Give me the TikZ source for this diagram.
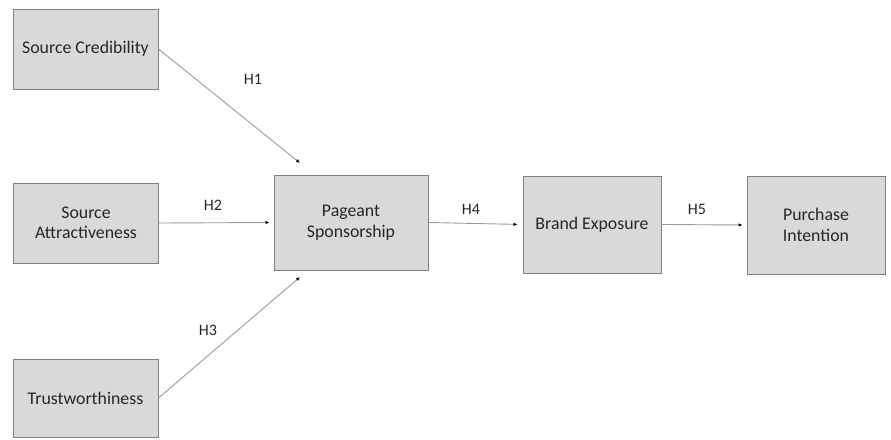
\documentclass[tikz,border=0pt]{standalone}
\usepackage{fontspec}
\setmainfont{Carlito}
\usetikzlibrary{arrows.meta}
\tikzset{construct/.style={draw=black!50, fill=black!15, line width=1pt, text=black!85, align=center, font=\fontsize{17.8}{20.5}\selectfont},
  path/.style={draw=black!40, line width=0.9pt, -{Latex[length=4pt,width=3.5pt,black]}},
  hyp/.style={text=black!85, font=\fontsize{16}{18}\selectfont}}

\begin{document}
\begin{tikzpicture}[x=1pt,y=-1pt]
   \useasboundingbox (0,0) rectangle (891,439);
   % independent variables
   \node[construct, minimum width=145pt, minimum height=80pt] (cred) at (85.5,49) {Source Credibility};
   \node[construct, minimum width=145pt, minimum height=80pt] (attr) at (86,223) {Source\\Attractiveness};
   \node[construct, minimum width=145pt, minimum height=78pt] (trust) at (85.5,398) {Trustworthiness};
   % mediators and outcome
   \node[construct, minimum width=154pt, minimum height=95pt] (spons) at (351,222.5) {Pageant\\Sponsorship};
   \node[construct, minimum width=138pt, minimum height=97pt] (brand) at (592,224.5) {Brand Exposure};
   \node[construct, minimum width=138pt, minimum height=98pt] (purch) at (816,225) {Purchase\\Intention};
   \coordinate (h1tip) at (300,163);
   \coordinate (h3tip) at (300,277);
   \draw[path] (cred.east) -- (h1tip);
   \draw[path, shorten >=4pt] (attr.east) -- (spons.west);
   \draw[path] (trust.east) -- (h3tip);
   \draw[path, shorten >=5pt] (spons.east) -- (brand.west);
   \draw[path, shorten >=4pt] (brand.east) -- (purch.west);
   % hypothesis labels
   \node[hyp] (h1) at (253,79) {H1};
   \node[hyp] (h2) at (213,205) {H2};
   \node[hyp] (h3) at (208,330) {H3};
   \node[hyp] (h4) at (471,209) {H4};
   \node[hyp] (h5) at (697,209) {H5};
\end{tikzpicture}
\end{document}
